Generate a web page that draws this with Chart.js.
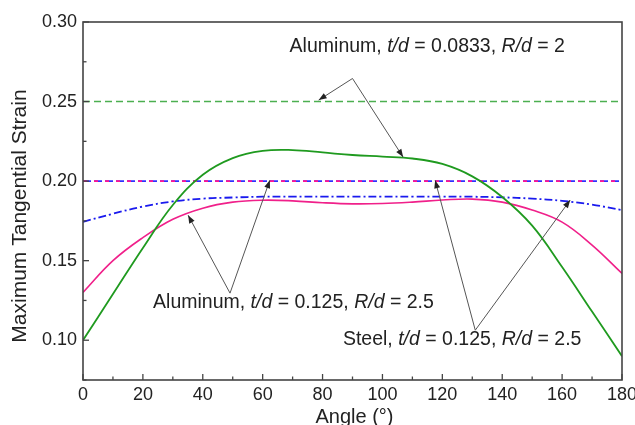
<!DOCTYPE html>
<html><head><meta charset="utf-8">
<script src="https://cdn.jsdelivr.net/npm/chart.js@4/dist/chart.umd.min.js"></script>
<style>html,body{margin:0;padding:0;background:#fff}#wrap{width:635px;height:425px}</style>
</head><body><div id="wrap"><canvas id="c" width="635" height="425"></canvas></div>
<script>
const angles = [0,10,20,30,40,50,60,70,80,90,100,110,120,130,140,150,160,170,180];
const alThinSolid = [0.100,0.129,0.158,0.185,0.204,0.2145,0.219,0.2195,0.2180,0.2164,0.2154,0.2142,0.2108,0.203,0.190,0.172,0.146,0.118,0.090];
const alThickSolid = [0.130,0.150,0.1645,0.176,0.183,0.1868,0.188,0.1876,0.1864,0.1857,0.1859,0.1868,0.1881,0.1887,0.1868,0.1818,0.1742,0.1598,0.142];
const steelDashDot = [0.1744,0.1795,0.184,0.1872,0.189,0.1897,0.1902,0.1903,0.1903,0.1903,0.1903,0.1903,0.1903,0.1902,0.1898,0.189,0.1876,0.1852,0.1818];
const alThinLimit = 0.25;
const alThickLimit = 0.20;
const steelLimit = 0.20;
const xTicks = [0,20,40,60,80,100,120,140,160,180];
const yTicks = [0.10,0.15,0.20,0.25,0.30];
const xTitle = 'Angle (°)';
const yTitle = 'Maximum Tangential Strain';

const FONT = "'Liberation Sans', Arial, sans-serif";
const TXT = '#222';
const pts = (arr) => angles.map((a,i)=>({x:a,y:arr[i]}));
const flat = (v) => [{x:0,y:v},{x:180,y:v}];

// annotations in data coordinates
const notes = [
  {parts:[["Aluminum, ",false],["t/d",true],[" = 0.0833, ",false],["R/d",true],[" = 2",false]], x:69, y:0.2848,
   vertex:[90.0,0.2645], tips:[[78.7,0.2509],[106.9,0.2151]]},
  {parts:[["Aluminum, ",false],["t/d",true],[" = 0.125, ",false],["R/d",true],[" = 2.5",false]], x:23.4, y:0.1236,
   vertex:[49.1,0.1296], tips:[[35.1,0.1786],[62.4,0.2006]]},
  {parts:[["Steel, ",false],["t/d",true],[" = 0.125, ",false],["R/d",true],[" = 2.5",false]], x:86.8, y:0.1003,
   vertex:[131.0,0.1063], tips:[[117.6,0.2005],[162.7,0.1881]]}
];

const annot = {
  id:'annot',
  afterDatasetsDraw(chart){
    const ctx = chart.ctx, xs = chart.scales.x, ys = chart.scales.y;
    const a = chart.chartArea;
    ctx.save();
    // frame
    ctx.strokeStyle = '#444'; ctx.lineWidth = 1.6;
    ctx.strokeRect(a.left, a.top, a.right-a.left, a.bottom-a.top);
    // inward ticks
    ctx.lineWidth = 1.3;
    for (let v=0; v<=180; v+=10){
      const px = xs.getPixelForValue(v), L = (v%20===0)?6:3.5;
      ctx.beginPath(); ctx.moveTo(px,a.bottom); ctx.lineTo(px,a.bottom-L); ctx.stroke();
    }
    for (let k=0; k<=9; k++){
      const v = 0.075 + k*0.025;
      const py = ys.getPixelForValue(v), L = (k%2===1)?6:3.5;
      ctx.beginPath(); ctx.moveTo(a.left,py); ctx.lineTo(a.left+L,py); ctx.stroke();
    }
    // axis titles
    ctx.fillStyle = TXT; ctx.textAlign = 'center'; ctx.textBaseline = 'alphabetic';
    ctx.font = '20px ' + FONT;
    ctx.fillText(xTitle, (a.left+a.right)/2 + 2, 423);
    ctx.save();
    ctx.textBaseline = 'middle';
    ctx.translate(20, (a.top+a.bottom)/2 + 15);
    ctx.rotate(-Math.PI/2);
    ctx.font = '21px ' + FONT;
    ctx.fillText(yTitle, 0, 0);
    ctx.restore();
    // annotations
    ctx.strokeStyle = '#555'; ctx.lineWidth = 1;
    notes.forEach(n=>{
      const vx = xs.getPixelForValue(n.vertex[0]), vy = ys.getPixelForValue(n.vertex[1]);
      n.tips.forEach(t=>{
        const tx = xs.getPixelForValue(t[0]), ty = ys.getPixelForValue(t[1]);
        ctx.beginPath(); ctx.moveTo(vx,vy); ctx.lineTo(tx,ty); ctx.stroke();
        const ang = Math.atan2(ty-vy, tx-vx), h=8, w=3;
        ctx.beginPath();
        ctx.moveTo(tx,ty);
        ctx.lineTo(tx - h*Math.cos(ang) + w*Math.sin(ang), ty - h*Math.sin(ang) - w*Math.cos(ang));
        ctx.lineTo(tx - h*Math.cos(ang) - w*Math.sin(ang), ty - h*Math.sin(ang) + w*Math.cos(ang));
        ctx.closePath(); ctx.fillStyle='#222'; ctx.fill();
      });
      let x = xs.getPixelForValue(n.x); const y = ys.getPixelForValue(n.y);
      ctx.textBaseline = 'middle'; ctx.textAlign='left';
      n.parts.forEach(p=>{
        ctx.font = (p[1]?'italic ':'') + '19.5px ' + FONT;
        ctx.fillStyle = TXT;
        ctx.fillText(p[0], x, y);
        x += ctx.measureText(p[0]).width;
      });
    });
    ctx.restore();
  }
};

new Chart(document.getElementById('c'), {
  type:'line',
  data:{datasets:[
    {data:pts(alThinSolid), borderColor:'#1f9a1f', borderWidth:1.8, pointRadius:0, tension:0.4},
    {data:flat(alThinLimit), borderColor:'#4caf50', borderWidth:1.6, borderDash:[7,4], pointRadius:0},
    {data:flat(alThickLimit), borderColor:'#ff1493', borderWidth:1.8, borderDash:[4,7], pointRadius:0},
    {data:flat(steelLimit), borderColor:'#3030ff', borderWidth:1.8, borderDash:[8,3], pointRadius:0},
    {data:pts(steelDashDot), borderColor:'#1a1aee', borderWidth:1.8, borderDash:[8,3,2,3], pointRadius:0, tension:0.4},
    {data:pts(alThickSolid), borderColor:'#f0208a', borderWidth:1.6, pointRadius:0, tension:0.4}
  ]},
  options:{
    responsive:false, animation:false,
    layout:{padding:{top:22,right:13,left:0,bottom:0}},
    plugins:{legend:{display:false}, tooltip:{enabled:false}},
    scales:{
      x:{type:'linear', min:0, max:180,
        afterBuildTicks(s){ s.ticks = xTicks.map(v=>({value:v})); },
        afterFit(s){ s.height = 45; s.paddingLeft = 0; s.paddingRight = 0; },
        grid:{display:false, drawTicks:false}, border:{display:false},
        ticks:{padding:6, color:TXT, font:{family:FONT, size:18, lineHeight:1}}
      },
      y:{type:'linear', min:0.075, max:0.30,
        afterBuildTicks(s){ s.ticks = yTicks.map(v=>({value:v})); },
        afterFit(s){ s.width = 83; s.paddingTop = 0; s.paddingBottom = 0; },
        grid:{display:false, drawTicks:false}, border:{display:false},
        ticks:{padding:6, color:TXT, font:{family:FONT, size:18}, callback:(v)=>v.toFixed(2)}
      }
    }
  },
  plugins:[annot]
});
</script></body></html>
